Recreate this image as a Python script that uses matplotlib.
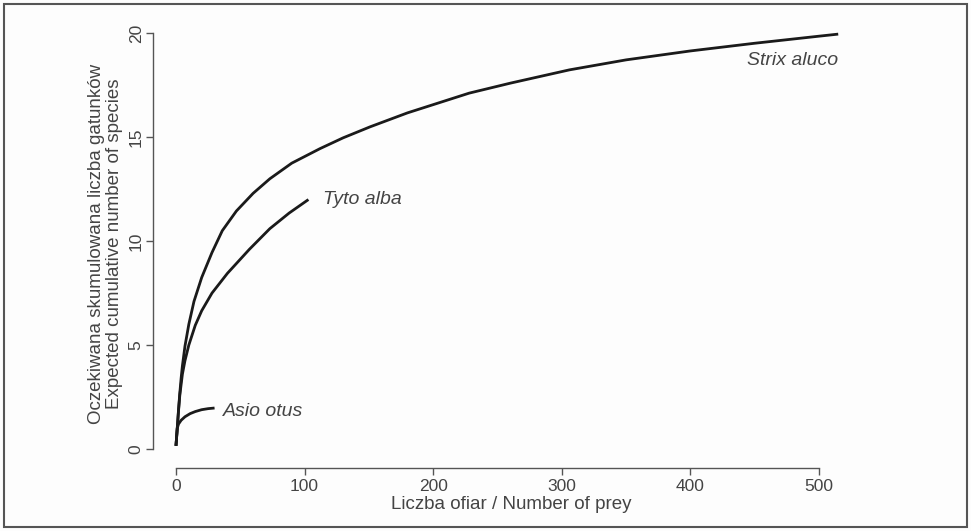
import matplotlib
matplotlib.use('Agg')
import matplotlib.pyplot as plt
from matplotlib.patches import Rectangle

plt.rcParams['font.family'] = ['Liberation Sans', 'DejaVu Sans']

# Data
strix_n = [0, 1, 2, 3, 4, 5, 7, 10, 14, 20, 28, 36, 47, 60, 73, 90, 112, 130,
           151, 180, 228, 260, 306, 350, 400, 450, 500, 515]
strix_s = [0.15, 1.0, 1.9, 2.7, 3.4, 4.0, 4.95, 6.0, 7.1, 8.25, 9.45, 10.5, 11.45,
           12.3, 13.0, 13.75, 14.45, 14.97, 15.5, 16.17, 17.12, 17.6, 18.24,
           18.72, 19.15, 19.52, 19.86, 19.96]

tyto_n = [0, 1, 2, 3, 5, 7, 10, 15, 20, 28, 40, 57, 73, 88, 103]
tyto_s = [0.15, 1.0, 1.85, 2.6, 3.6, 4.25, 5.0, 5.95, 6.65, 7.5, 8.45, 9.6,
          10.6, 11.35, 12.0]

asio_n = [0, 1, 2, 4, 7, 11, 15, 20, 25, 30]
asio_s = [0.15, 1.0, 1.2, 1.38, 1.55, 1.7, 1.8, 1.89, 1.94, 1.97]

x_ticks = [0, 100, 200, 300, 400, 500]
y_ticks = [0, 5, 10, 15, 20]

axis_col = '#555555'
text_col = '#444444'
line_col = '#1a1a1a'

fig = plt.figure(figsize=(9.71, 5.31), dpi=100, facecolor='#fdfdfd')
ax = fig.add_axes([0.15726, 0.11808, 0.7391, 0.8443])
ax.set_facecolor('none')

for n, s in [(strix_n, strix_s), (tyto_n, tyto_s), (asio_n, asio_s)]:
    ax.plot(n, s, color=line_col, lw=2.0, solid_capstyle='butt',
            solid_joinstyle='round')

lab = dict(color=text_col, fontsize=14, style='italic')
ax.text(515, 18.45, 'Strix aluco', ha='right', va='baseline', **lab)
ax.text(114.5, 11.8, 'Tyto alba', ha='left', va='baseline', **lab)
ax.text(36.5, 1.6, 'Asio otus', ha='left', va='baseline', **lab)

ax.set_xlim(-18.1, 540)
ax.set_ylim(-0.93, 20.64)
ax.set_xticks(x_ticks)
ax.set_yticks(y_ticks)
ax.set_xticklabels([str(v) for v in x_ticks])
ax.set_yticklabels([str(v) for v in y_ticks], rotation=90, va='center')

for side in ['top', 'right']:
    ax.spines[side].set_visible(False)
ax.spines['left'].set_bounds(0, 20)
ax.spines['bottom'].set_bounds(0, 500)
for side in ['left', 'bottom']:
    ax.spines[side].set_color(axis_col)
    ax.spines[side].set_linewidth(1.0)

ax.tick_params(axis='both', direction='out', length=5, width=1.0,
               color=axis_col, labelcolor=text_col, labelsize=12.5)
ax.tick_params(axis='x', pad=2.5)
ax.tick_params(axis='y', pad=1.5)

ax.set_xlabel('Liczba ofiar / Number of prey', fontsize=13.5, color=text_col,
              labelpad=2)
ax.set_ylabel('Oczekiwana skumulowana liczba gatunków\nExpected cumulative number of species',
              fontsize=13.5, color=text_col, labelpad=4, linespacing=1.1)

# frame around the whole figure
fig.patches.append(Rectangle((4 / 971, 4 / 531), 963 / 971, 523 / 531,
                             transform=fig.transFigure, fill=False,
                             edgecolor='#555555', linewidth=1.5))

fig.savefig('out.png', dpi=100, facecolor=fig.get_facecolor())
